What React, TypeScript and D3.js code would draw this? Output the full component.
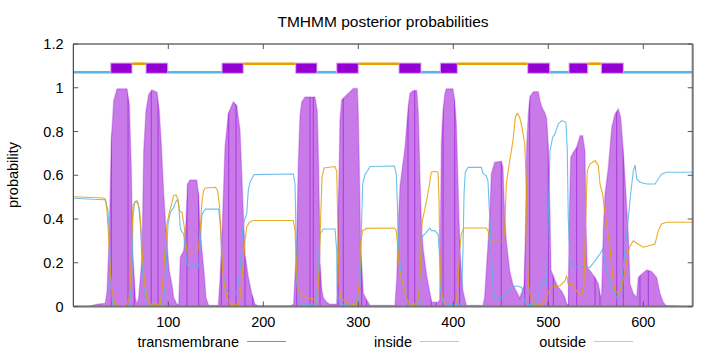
import React from 'react';
import * as d3 from 'd3';

// residue, probability pairs
const tmProb = [
  [1, 0], [18, 0.003], [25, 0.01], [33.7, 0.015], [35.5, 0.07], [37.9, 0.33], [40, 0.76], [42.5, 0.94],
  [46, 0.995], [56.5, 0.995], [59, 0.925], [61, 0.64], [62.5, 0.255], [65.3, 0.04], [67, 0.01],
  [68.8, 0.04], [72.3, 0.225], [74.1, 0.71], [76.5, 0.895], [79.4, 0.97], [82.8, 0.99], [88.1, 0.98],
  [90.5, 0.895], [92.6, 0.745], [95.2, 0.514], [98.6, 0.285], [101, 0.164], [103.9, 0.1], [105.7, 0.04],
  [109.2, 0.01], [111, 0.01], [112.6, 0.225], [116.2, 0.255], [118.6, 0.38], [120.2, 0.56], [122.8, 0.578],
  [129.9, 0.578], [132, 0.51], [133.4, 0.36], [135.5, 0.255], [137.6, 0.16], [139.7, 0.04], [142.5, 0.005],
  [152.6, 0.005], [154.4, 0.12], [157.3, 0.425], [159.7, 0.73], [163.2, 0.883], [168.4, 0.936], [172, 0.92],
  [175.5, 0.807], [178.3, 0.5], [180.7, 0.24], [184.2, 0.136], [187.8, 0.06], [191.3, 0.01], [195, 0.003],
  [229, 0.003], [231.9, 0.01], [235.2, 0.3], [236.8, 0.645], [238.6, 0.87], [240.4, 0.935], [243.9, 0.958],
  [254.4, 0.958], [256.8, 0.895], [258.3, 0.64], [259.7, 0.2], [261.5, 0.08], [263.2, 0.04], [266.7, 0.02],
  [270, 0.01], [275, 0.01], [277.3, 0.01], [279, 0.426], [280.7, 0.853], [282.5, 0.944], [286, 0.96],
  [291.3, 0.982], [294.7, 0.997], [299, 0.997], [300, 0.884], [301, 0.655], [302.5, 0.27], [305.3, 0.06],
  [308.8, 0.03], [312.3, 0.005], [338.6, 0.005], [340.5, 0.13], [342.1, 0.38], [343.9, 0.55], [346.5, 0.64],
  [349, 0.72], [350.9, 0.82], [352.6, 0.914], [354.4, 0.975], [357.9, 0.987], [361.5, 0.987], [363.2, 0.884],
  [365, 0.579], [366.7, 0.35], [368.4, 0.26], [372, 0.14], [375.5, 0.06], [377.3, 0.02], [384, 0.02],
  [385.7, 0.03], [387.4, 0.743], [389.2, 0.895], [391, 0.97], [392.6, 0.995], [399.7, 0.995], [401.5, 0.94],
  [403.2, 0.834], [405, 0.56], [406.7, 0.285], [408.4, 0.164], [410.2, 0.07], [413.7, 0.005],
  [431.3, 0.005], [433, 0.042], [436.5, 0.285], [438.3, 0.407], [440, 0.606], [443.6, 0.66], [450.5, 0.664],
  [452.3, 0.636], [454.1, 0.407], [455.8, 0.3], [459.4, 0.164], [462.8, 0.1], [466.3, 0.07], [469.9, 0.04],
  [473.4, 0.08], [474.5, 0.1], [476, 0.35], [477.2, 0.73], [479, 0.884], [480.7, 0.96], [484.2, 0.982],
  [489.5, 0.982], [491.3, 0.94], [493, 0.914], [496.5, 0.884], [498.3, 0.86], [500, 0.73], [501.8, 0.426],
  [502.8, 0.167], [505.3, 0.14], [507, 0.12], [510, 0.09], [514.1, 0.07], [517.6, 0.04], [519.5, 0.01],
  [521.1, 0.01], [522.1, 0.407], [523.6, 0.682], [526.3, 0.705], [529.9, 0.728], [533.4, 0.781],
  [536.2, 0.781], [538.6, 0.712], [539.7, 0.377], [541, 0.179], [543.9, 0.164], [549.2, 0.133],
  [552.7, 0.103], [555.2, 0.042], [556.2, 0.06], [558, 0.362], [559.7, 0.514], [563.2, 0.636],
  [566.8, 0.819], [570.2, 0.88], [573.7, 0.903], [576.2, 0.865], [578.9, 0.712], [581.8, 0.514],
  [584.2, 0.331], [586, 0.103], [589.5, 0.06], [593, 0.042], [594.7, 0.133], [598.3, 0.148], [603.6, 0.167],
  [608.8, 0.16], [614.1, 0.133], [617.6, 0.06], [621, 0.02], [623.9, 0.005], [652, 0],
];

const insideProb = [
  [1, 0.495], [20, 0.49], [33.7, 0.488], [36.5, 0.438], [37.9, 0.331], [39, 0.164], [40, 0.057], [41.4, 0.011],
  [44, 0.003], [58, 0.003], [60, 0.04], [61.8, 0.179], [62.8, 0.407], [64.6, 0.476], [67, 0.484], [68.8, 0.461],
  [70.6, 0.377], [72.3, 0.21], [74.1, 0.088], [76.5, 0.027], [79.3, 0.008], [93, 0.005], [95, 0.03], [97, 0.1],
  [99.7, 0.377], [102.1, 0.43], [105.7, 0.453], [107.4, 0.476], [109.2, 0.487], [111, 0.468], [112.7, 0.354],
  [116.2, 0.331], [118, 0.255], [119.7, 0.194], [121.4, 0.182], [132, 0.182], [133.7, 0.3], [135.5, 0.422],
  [139, 0.445], [153, 0.445], [154.7, 0.377], [156.5, 0.21], [158.2, 0.133], [160, 0.088], [163, 0.06],
  [172, 0.057], [175.5, 0.164], [177.9, 0.331], [179.7, 0.39], [182.5, 0.422], [184.2, 0.53], [186, 0.568],
  [187.8, 0.583], [190.2, 0.603], [231.6, 0.606], [233.4, 0.56], [234.4, 0.331], [235.2, 0.103],
  [236.8, 0.027], [239, 0.01], [256, 0.01], [257.9, 0.164], [259.7, 0.331], [263.2, 0.354], [275.5, 0.354],
  [277.3, 0.255], [277.9, 0.072], [280, 0.019], [283, 0.01], [300, 0.01], [301.8, 0.103], [303.6, 0.407],
  [304.6, 0.56], [307, 0.603], [309.5, 0.618], [312.3, 0.64], [338, 0.642], [340, 0.606], [341, 0.484],
  [342.5, 0.255], [344.6, 0.164], [347, 0.103], [350.5, 0.042], [352, 0.011], [363, 0.011], [364.6, 0.1],
  [366.3, 0.3], [368.1, 0.323], [371.6, 0.339], [375.2, 0.359], [376.8, 0.347], [380.4, 0.347],
  [383.9, 0.331], [385.7, 0.225], [386.7, 0.072], [389.2, 0.019], [392, 0.01], [408.4, 0.01], [410.2, 0.255],
  [411.3, 0.514], [412.6, 0.614], [415.5, 0.636], [429.5, 0.636], [431.3, 0.608], [434.7, 0.597],
  [436.5, 0.574], [438.3, 0.407], [439.4, 0.3], [441.8, 0.103], [443.6, 0.042], [448.8, 0.034],
  [454.1, 0.049], [457.6, 0.072], [462.8, 0.088], [466.3, 0.095], [471.6, 0.088], [473.4, 0.072],
  [475.2, 0.019], [478, 0.01], [486, 0.008], [489, 0.04], [492, 0.1], [495, 0.118], [498.3, 0.1],
  [500, 0.407], [501.8, 0.712], [504.6, 0.773], [507, 0.789], [510.5, 0.834], [514.1, 0.85], [518.6, 0.842],
  [520, 0.712], [521, 0.407], [522.8, 0.194], [526.3, 0.182], [543.9, 0.179], [549.2, 0.21], [554.4, 0.24],
  [557.3, 0.263], [559.7, 0.194], [563.2, 0.133], [566.7, 0.088], [570.2, 0.057], [572.6, 0.034],
  [575.5, 0.072], [578.9, 0.179], [582.5, 0.331], [586.7, 0.514], [589.5, 0.62], [591.3, 0.647],
  [593.1, 0.583], [596.5, 0.568], [603.6, 0.56], [612.3, 0.56], [615.8, 0.583], [619.4, 0.606],
  [624.6, 0.614], [652, 0.614],
];

const outsideProb = [
  [1, 0.502], [32, 0.496], [33.7, 0.49], [35.5, 0.438], [37.2, 0.316], [39, 0.164], [40.7, 0.072],
  [43.5, 0.019], [46, 0.004], [54.8, 0.004], [58.3, 0.027], [60, 0.103], [61.8, 0.331], [62.8, 0.461],
  [65.3, 0.481], [68.1, 0.472], [69.9, 0.438], [71.6, 0.331], [73, 0.21], [75.1, 0.103], [77.6, 0.042],
  [81.1, 0.011], [91.6, 0.011], [94.1, 0.103], [96.2, 0.225], [98.6, 0.377], [101.1, 0.43], [103.9, 0.476],
  [105.6, 0.507], [108.1, 0.51], [110.2, 0.49], [111.6, 0.438], [114.4, 0.43], [116.9, 0.362], [118, 0.3],
  [119.7, 0.255], [121.4, 0.243], [130.2, 0.243], [131.9, 0.271], [133.7, 0.362], [135.5, 0.484],
  [137.2, 0.53], [139, 0.542], [149.5, 0.545], [151.9, 0.53], [153.7, 0.469], [155.4, 0.331], [157.2, 0.164],
  [159.3, 0.088], [161.8, 0.042], [165.3, 0.011], [174, 0.011], [175.5, 0.04], [178.3, 0.164], [180.7, 0.3],
  [182.5, 0.362], [185.3, 0.385], [189.5, 0.393], [231.6, 0.393], [233.4, 0.347], [234.4, 0.225],
  [235.8, 0.103], [238.6, 0.057], [243.9, 0.042], [252.6, 0.035], [256.8, 0.019], [258.9, 0.179],
  [260.4, 0.407], [261.8, 0.59], [263.9, 0.633], [275.5, 0.64], [277.3, 0.618], [278.3, 0.407],
  [279.7, 0.103], [281.4, 0.042], [284.2, 0.027], [291.2, 0.011], [298.2, 0.011], [301, 0.103],
  [302.4, 0.285], [304.5, 0.347], [308.8, 0.357], [338, 0.359], [340, 0.347], [341.8, 0.255], [343.5, 0.164],
  [347, 0.103], [350.5, 0.042], [354, 0.011], [361, 0.011], [363.5, 0.042], [365.3, 0.164], [366.3, 0.331],
  [367.4, 0.393], [369.7, 0.438], [372.5, 0.499], [375, 0.56], [376.8, 0.614], [380.4, 0.618],
  [383.9, 0.614], [385, 0.484], [385.7, 0.255], [387.5, 0.072], [390.2, 0.019], [392.6, 0.004],
  [401.5, 0.004], [403.2, 0.027], [405, 0.103], [406.7, 0.255], [408.4, 0.331], [411.3, 0.359],
  [434.7, 0.359], [436.5, 0.347], [438.3, 0.309], [441.8, 0.298], [452.3, 0.298], [454.1, 0.347],
  [455.8, 0.56], [459.4, 0.667], [462.8, 0.758], [465.3, 0.865], [467.4, 0.883], [469.9, 0.865],
  [472.3, 0.819], [475.2, 0.743], [476.9, 0.56], [478, 0.255], [479, 0.103], [481.4, 0.042], [485.6, 0.011],
  [492.6, 0.004], [498.3, 0.042], [501.8, 0.085], [505.3, 0.09], [512.3, 0.095], [517.6, 0.118],
  [519.3, 0.141], [521, 0.103], [526.3, 0.098], [531.6, 0.057], [535.2, 0.049], [537.6, 0.103],
  [539.4, 0.407], [541, 0.62], [543.9, 0.651], [549.2, 0.667], [552.7, 0.644], [554.4, 0.56], [557.2, 0.514],
  [559.7, 0.422], [561.4, 0.377], [564.9, 0.271], [567.8, 0.133], [570.2, 0.072], [573.7, 0.057],
  [577.3, 0.088], [580.7, 0.164], [585.3, 0.271], [589.5, 0.3], [593.1, 0.289], [600, 0.271],
  [612.3, 0.285], [615.8, 0.347], [619.3, 0.377], [624.6, 0.385], [652, 0.385],
];

// dark streaks inside the transmembrane fill
const darkLines = [40, 57.6, 64.2, 82.1, 89.2, 119.7, 132, 155.8, 163.6, 171.3, 180.7, 188.8, 235.2, 249.2,
  252.6, 259.7, 279, 284.2, 303.6, 308.8, 352.3, 359.4, 376.8, 382.1, 389.2, 401.5, 406.7, 450.5, 475.2,
  480.4, 500, 505.3, 521, 529.9, 549.2, 554.4, 572, 578.9, 596.5, 605.3];

// predicted topology
const helices = [[39.4, 61.8], [76.5, 99.4], [156.5, 178.9], [234.1, 256.5], [277.3, 300], [342.8, 366],
  [386.3, 404.2], [478.3, 501.5], [521.8, 541.5], [555.8, 579]];
const seqLength = 652;

const xTicks = [100, 200, 300, 400, 500, 600];
const yTicks = [0, 0.2, 0.4, 0.6, 0.8, 1, 1.2];

const PURPLE = '#9400d3';
const BLUE = '#56b4e9';
const ORANGE = '#e69f00';
const FONT = '"Liberation Sans", Arial, sans-serif';

export default function App() {
  const left = 73.3, right = 692.7, top = 44, bottom = 306.5;
  const x = d3.scaleLinear().domain([0, seqLength]).range([left, right]);
  const y = d3.scaleLinear().domain([0, 1.2]).range([bottom, top]);

  const area = d3.area<number[]>().x((d) => x(d[0])).y0(y(0)).y1((d) => y(d[1]));
  const line = d3.line<number[]>().x((d) => x(d[0])).y((d) => y(d[1]));
  const tmPath = area(tmProb) || '';

  // loops between helices alternate inside / outside, starting inside
  const loopStarts = [0, ...helices.map((h) => h[1])];
  const loopEnds = [...helices.map((h) => h[0]), seqLength];
  const loops = loopStarts.map((s, i) => ({ s, e: loopEnds[i], inside: i % 2 === 0 }));

  const legend = [
    { label: 'transmembrane', end: 239, color: PURPLE },
    { label: 'inside', end: 412, color: BLUE },
    { label: 'outside', end: 586, color: ORANGE },
  ];

  return (
    <div style={{ position: 'absolute', left: 0, top: 0 }}>
      <svg width={720} height={352} style={{ display: 'block', background: '#fff' }} fontFamily={FONT}>
        <defs>
          <clipPath id="tmclip">
            <path d={tmPath} />
          </clipPath>
        </defs>

        <text x={(left + right) / 2} y={27} textAnchor="middle" fontSize={15.5}>
          TMHMM posterior probabilities
        </text>

        {/* transmembrane posterior */}
        <path d={tmPath} fill={PURPLE} fillOpacity={0.52} stroke={PURPLE} strokeOpacity={0.25} strokeWidth={1.4} />
        <g clipPath="url(#tmclip)">
          {darkLines.map((r, i) => (
            <line key={i} x1={x(r)} x2={x(r)} y1={y(0)} y2={y(1.05)} stroke={PURPLE} strokeOpacity={0.55} strokeWidth={1} />
          ))}
        </g>

        <path d={line(insideProb) || ''} fill="none" stroke={BLUE} strokeOpacity={0.85} strokeWidth={1.1} />
        <path d={line(outsideProb) || ''} fill="none" stroke={ORANGE} strokeOpacity={0.85} strokeWidth={1.1} />

        {/* topology */}
        {loops.map((l, i) => (
          <line key={'l' + i} x1={x(l.s)} x2={x(l.e)} y1={y(l.inside ? 1.071 : 1.11)} y2={y(l.inside ? 1.071 : 1.11)}
            stroke={l.inside ? BLUE : ORANGE} strokeWidth={2.6} />
        ))}
        {helices.map((h, i) => (
          <rect key={'h' + i} x={x(h[0])} y={y(1.113)} width={x(h[1]) - x(h[0])} height={y(1.066) - y(1.113)}
            fill={PURPLE} stroke="#dcaaf0" strokeWidth={1} />
        ))}

        {/* border */}
        <line x1={left} x2={right} y1={top} y2={top} stroke="#222" strokeWidth={1} />
        <line x1={left} x2={left} y1={top} y2={bottom} stroke="#222" strokeWidth={1} />
        <line x1={left} x2={right} y1={bottom} y2={bottom} stroke="#777" strokeWidth={2} />
        <line x1={right} x2={right} y1={top} y2={bottom} stroke="#777" strokeWidth={2} />

        {/* ticks */}
        {xTicks.map((t) => (
          <g key={'x' + t}>
            <line x1={x(t)} x2={x(t)} y1={bottom} y2={bottom - 5} stroke="#555" />
            <line x1={x(t)} x2={x(t)} y1={top} y2={top + 5} stroke="#555" />
            <text x={x(t)} y={326.7} textAnchor="middle" fontSize={14.5}>{t}</text>
          </g>
        ))}
        {yTicks.map((t) => (
          <g key={'y' + t}>
            <line x1={left} x2={left + 5} y1={y(t)} y2={y(t)} stroke="#555" />
            <line x1={right} x2={right - 5} y1={y(t)} y2={y(t)} stroke="#555" />
            <text x={63.5} y={y(t) + 5} textAnchor="end" fontSize={14.5}>{t}</text>
          </g>
        ))}

        <text transform="translate(18,175) rotate(-90)" textAnchor="middle" fontSize={14.5}>probability</text>

        {/* legend */}
        {legend.map((d) => (
          <g key={d.label}>
            <text x={d.end} y={346.7} textAnchor="end" fontSize={14.5}>{d.label}</text>
            <line x1={d.end + 8} x2={d.end + 47} y1={341.5} y2={341.5} stroke={d.color} strokeOpacity={0.6} strokeWidth={1} />
          </g>
        ))}
      </svg>
    </div>
  );
}
